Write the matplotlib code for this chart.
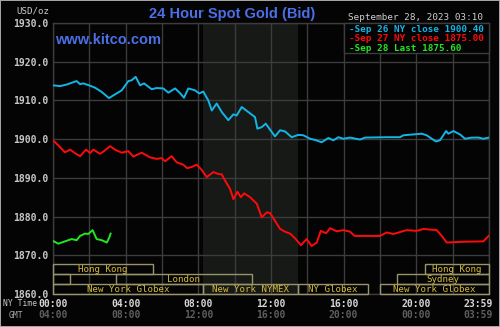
import matplotlib
matplotlib.use("Agg")
import matplotlib.pyplot as plt
import matplotlib.transforms as mtransforms
from matplotlib.patches import Rectangle

# --- prices (hours after NY midnight, USD/oz) ---
sep26_hours = [0.00, 0.39, 0.75, 1.30, 1.49, 1.67, 2.04, 2.31, 2.68, 3.08, 3.32, 3.78,
               4.15, 4.33, 4.55, 4.79, 5.01, 5.43, 5.71, 6.07, 6.35, 6.72, 6.99, 7.21,
               7.45, 7.82, 8.05, 8.27, 8.55, 8.74, 9.01, 9.29, 9.65, 9.93, 10.11, 10.39,
               10.75, 11.12, 11.25, 11.49, 11.71, 12.22, 12.50, 12.77, 13.14, 13.50, 13.78,
               14.15, 14.42, 14.79, 15.16, 15.43, 15.71, 15.98, 16.35, 16.90, 17.18, 18.37,
               19.10, 19.29, 20.30, 20.57, 20.85, 21.08, 21.30, 21.64, 21.76, 22.04, 22.41,
               22.68, 23.05, 23.42, 23.69, 23.98]
sep26_prices = [1913.9, 1913.7, 1914.1, 1915.0, 1914.2, 1914.4, 1913.8, 1913.3, 1912.2,
                1910.6, 1911.3, 1912.6, 1915.0, 1915.2, 1916.1, 1913.9, 1914.4, 1912.9,
                1913.2, 1913.1, 1912.0, 1913.1, 1911.9, 1910.7, 1913.1, 1912.6, 1911.8,
                1912.3, 1910.0, 1907.4, 1909.2, 1907.0, 1904.9, 1906.4, 1906.1, 1908.3,
                1907.0, 1905.7, 1902.7, 1903.1, 1904.0, 1900.7, 1902.3, 1902.0, 1900.5,
                1901.1, 1901.0, 1900.1, 1899.8, 1899.2, 1900.3, 1899.7, 1900.5, 1900.1,
                1900.4, 1899.9, 1900.4, 1900.5, 1900.5, 1901.0, 1901.4, 1901.0, 1900.1,
                1899.4, 1899.7, 1902.1, 1901.4, 1902.1, 1901.2, 1900.1, 1900.4, 1900.4,
                1900.1, 1900.4]

sep27_hours = [0.00, 0.29, 0.66, 0.94, 1.21, 1.49, 1.82, 2.04, 2.22, 2.59, 2.86, 3.14,
               3.41, 3.78, 4.15, 4.42, 4.88, 5.34, 5.71, 5.98, 6.17, 6.53, 6.81, 7.17,
               7.39, 7.63, 7.91, 8.18, 8.46, 8.83, 9.10, 9.29, 9.47, 9.75, 9.93, 10.15,
               10.34, 10.52, 10.85, 11.22, 11.49, 11.77, 11.95, 12.22, 12.50, 12.77, 13.05,
               13.32, 13.65, 13.96, 14.24, 14.52, 14.74, 15.03, 15.25, 15.62, 15.98, 16.35,
               16.60, 17.00, 18.00, 18.37, 18.73, 19.47, 20.02, 20.39, 21.12, 21.40, 21.67,
               22.59, 23.69, 23.98]
sep27_prices = [1899.7, 1898.4, 1896.6, 1897.3, 1896.4, 1895.6, 1897.3, 1896.4, 1897.3,
                1896.2, 1897.1, 1898.2, 1897.3, 1896.5, 1896.9, 1895.5, 1896.5, 1895.3,
                1894.9, 1895.1, 1894.3, 1895.6, 1894.0, 1893.4, 1892.5, 1892.8, 1893.4,
                1892.1, 1890.2, 1891.5, 1891.0, 1890.9, 1889.3, 1887.1, 1884.5, 1886.4,
                1885.0, 1886.0, 1885.0, 1883.3, 1879.8, 1881.1, 1880.9, 1878.9, 1876.8,
                1876.1, 1875.6, 1874.4, 1872.6, 1874.2, 1872.4, 1873.3, 1876.3, 1875.7,
                1877.0, 1876.2, 1876.5, 1876.1, 1875.0, 1875.0, 1875.0, 1875.9, 1875.5,
                1876.5, 1876.3, 1876.8, 1876.5, 1875.0, 1873.3, 1873.5, 1873.6, 1875.0]

sep28_hours = [0.00, 0.29, 0.66, 1.03, 1.30, 1.49, 1.76, 1.94, 2.18, 2.40, 2.68, 2.96,
               3.10, 3.17]
sep28_prices = [1873.7, 1873.0, 1873.6, 1874.2, 1873.9, 1875.0, 1875.6, 1875.5, 1876.5,
                1874.2, 1873.9, 1873.3, 1874.6, 1875.6]

legend_labels = ["-Sep 26 NY close 1900.40", "-Sep 27 NY close 1875.00",
                 "-Sep 28 Last 1875.60"]

# --- market sessions: row 0 is the top strip ---
session_rows = [0, 0, 1, 1, 1, 2, 2, 2, 2]
session_start = [0.0, 20.5, 0.0, 3.45, 18.95, 0.0, 8.25, 13.5, 18.0]
session_end = [5.5, 24.0, 0.95, 10.95, 24.0, 8.25, 13.5, 17.35, 24.0]
session_names = ["Hong Kong", "Hong Kong", "", "London", "Sydney",
                 "New York Globex", "New York NYMEX", "NY Globex", "New York Globex"]

comex_span = (8.25, 13.5)
ny_ticks = ["00:00", "04:00", "08:00", "12:00", "16:00", "20:00", "23:59"]
gmt_ticks = ["04:00", "08:00", "12:00", "16:00", "20:00", "00:00", "03:59"]
tick_hours = [0, 4, 8, 12, 16, 20, 24]
y_ticks = [1860, 1870, 1880, 1890, 1900, 1910, 1920, 1930]

BG = "#040405"
GRID = "#3c3c3c"
MONO = "DejaVu Sans Mono"
CYAN, RED, GREEN = "#12b6e6", "#ff0a0a", "#22e622"
GOLD, GOLD_EDGE = "#d8bc3c", "#9a946a"

fig = plt.figure(figsize=(5.0, 3.27), dpi=100, facecolor=BG)
ax = fig.add_axes([53 / 500, 1 - 294 / 327, 436 / 500, 271 / 327], facecolor=BG)

ax.set_xlim(0, 24)
ax.set_ylim(1860, 1930)
ax.axvspan(*comex_span, color="#161916", zorder=0, lw=0)

ax.set_xticks(range(0, 25, 2))
ax.set_xticklabels([])
ax.set_yticks(y_ticks)
ax.set_yticklabels([f"{v:.1f}" for v in y_ticks], fontfamily=MONO,
                   fontweight="bold", fontsize=7, color="#c8c8c8")
ax.tick_params(length=0, pad=3)
ax.grid(True, color=GRID, lw=1.0, zorder=1)
for s in ax.spines.values():
    s.set_color(GRID)
    s.set_linewidth(1.0)

ax.plot(sep26_hours, sep26_prices, color=CYAN, lw=1.4, zorder=4)
ax.plot(sep27_hours, sep27_prices, color=RED, lw=1.4, zorder=4)
ax.plot(sep28_hours, sep28_prices, color=GREEN, lw=1.4, zorder=4)

# session bars sit in the bottom strip, 10 px per row
trans = mtransforms.blended_transform_factory(ax.transData, ax.transAxes)
row_h = 10 / 271
for row, x0, x1, name in zip(session_rows, session_start, session_end, session_names):
    y0 = (2 - row) * row_h
    ax.add_patch(Rectangle((x0, y0), x1 - x0, row_h, transform=trans, fill=False,
                           edgecolor=GOLD_EDGE, lw=1.0, zorder=5, clip_on=False))
    if name:
        ax.text((x0 + x1) / 2, y0 + row_h / 2, name, transform=trans, ha="center",
                va="center", fontfamily=MONO, fontsize=6.6, color=GOLD, zorder=6)

# time axis: NY time above GMT
for h, ny, gmt in zip(tick_hours, ny_ticks, gmt_ticks):
    ha = "right" if h == 24 else "center"
    xx = 24.2 if h == 24 else h
    ax.text(xx, -0.037, ny, transform=trans, ha=ha, va="center", fontfamily=MONO,
            fontweight="bold", fontsize=7, color="#d6d6d6")
    ax.text(xx, -0.078, gmt, transform=trans, ha=ha, va="center", fontfamily=MONO,
            fontweight="bold", fontsize=7, color="#5e5e5e")
fig.text(3 / 500, 1 - 304 / 327, "NY Time", ha="left", va="center", fontfamily=MONO,
         fontsize=5.8, color="#c8c8c8")
fig.text(9 / 500, 1 - 315 / 327, "GMT", ha="left", va="center", fontfamily=MONO,
         fontsize=5.8, color="#a8a8a8")

fig.text(16 / 500, 1 - 11 / 327, "USD/oz", ha="left", va="center", fontfamily=MONO,
         fontsize=6.6, color="#c8c8c8")
fig.text(232 / 500, 1 - 14 / 327, "24 Hour Spot Gold (Bid)", ha="center", va="center",
         fontfamily="Liberation Sans", fontweight="bold", fontsize=10.5, color="#4b6fe6")
ax.text(0.005, 0.937, "www.kitco.com", transform=ax.transAxes, ha="left", va="center",
        fontfamily="Liberation Sans", fontweight="bold", fontsize=10.5, color="#4b6fe6",
        zorder=6)
fig.text(348 / 500, 1 - 17 / 327, "September 28, 2023 03:10", ha="left", va="center",
         fontfamily=MONO, fontsize=6.7, color="#d0d0d0")

# legend box in the top-right corner
lx0, lx1 = 344 / 500, 489 / 500
ly0, ly1 = 1 - 53 / 327, 1 - 23 / 327
fig.patches.append(Rectangle((lx0, ly0), lx1 - lx0, ly1 - ly0, transform=fig.transFigure,
                             facecolor=BG, edgecolor=GRID, lw=1.0, zorder=10))
for i, (lab, col) in enumerate(zip(legend_labels, [CYAN, RED, GREEN])):
    fig.text(349 / 500, 1 - (29 + 9.6 * i) / 327, lab, ha="left", va="center",
             fontfamily=MONO, fontweight="bold", fontsize=6.7, color=col, zorder=11)

# outer frame
fig.patches.append(Rectangle((0, 0), 1, 1, transform=fig.transFigure, fill=False,
                             edgecolor="#a8a8a8", lw=1.4, zorder=12))

fig.savefig("out.png", dpi=100, facecolor=fig.get_facecolor())
